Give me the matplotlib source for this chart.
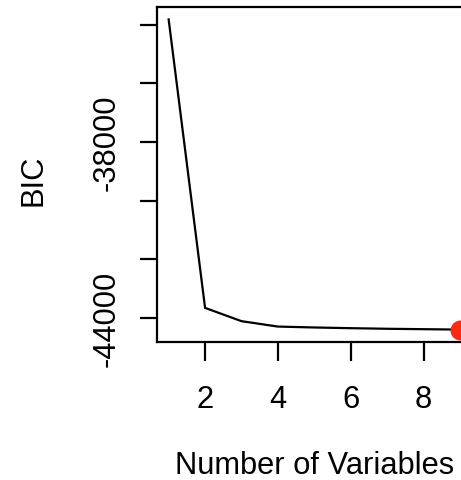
import matplotlib
matplotlib.use("Agg")
import matplotlib.pyplot as plt

plt.rcParams['font.family'] = ['Liberation Sans', 'DejaVu Sans']

# Data
n_vars = [1, 2, 3, 4, 5, 6, 7, 8, 9]
bic = [-33821, -43649, -44102, -44286, -44317, -44341, -44361, -44375, -44389]
best_idx = 8

xticks = [2, 4, 6, 8]
xticklabels = ['2', '4', '6', '8']
yticks = [-34000, -36000, -38000, -40000, -42000, -44000]
yticklabels = ['', '', '-38000', '', '', '-44000']

W, H = 461, 481
fig = plt.figure(figsize=(W / 100, H / 100), dpi=100)
left_px, right_px, top_px, bot_px = 157, 471.6, 8, 343
ax = fig.add_axes([left_px / W, 1 - bot_px / H, (right_px - left_px) / W, (bot_px - top_px) / H])

ax.plot(n_vars, bic, color='black', lw=1.6, solid_joinstyle='miter')
ax.plot(n_vars[best_idx], bic[best_idx], 'o', color='#FF2A12', markersize=14.4,
        markeredgewidth=0, clip_on=False, zorder=5)

xr = max(n_vars) - min(n_vars)
ax.set_xlim(min(n_vars) - 0.04 * xr, max(n_vars) + 0.04 * xr)
yr = max(bic) - min(bic)
ax.set_ylim(min(bic) - 0.04 * yr, max(bic) + 0.04 * yr)

fs = 22.2
ax.set_xticks(xticks)
ax.set_xticklabels(xticklabels, fontsize=fs)
ax.set_yticks(yticks)
ax.set_yticklabels(yticklabels, fontsize=fs, rotation=90, va='center')

ax.tick_params(axis='x', direction='out', length=13.5, width=1.6, pad=17)
ax.tick_params(axis='y', direction='out', length=12.5, width=1.6, pad=13)
for s in ax.spines.values():
    s.set_linewidth(1.6)

ax.set_xlabel('Number of Variables', fontsize=fs)
ax.xaxis.label.set_verticalalignment('baseline')
ax.xaxis.set_label_coords(0.5, (bot_px - 474.5) / (bot_px - top_px))

ax.set_ylabel('BIC', fontsize=fs, rotation=90, rotation_mode='anchor')
ax.yaxis.label.set_verticalalignment('baseline')
ax.yaxis.label.set_horizontalalignment('center')
ax.yaxis.set_label_coords((42 - left_px) / (right_px - left_px), (bot_px - 180) / (bot_px - top_px))

fig.savefig('out.png', dpi=100)
